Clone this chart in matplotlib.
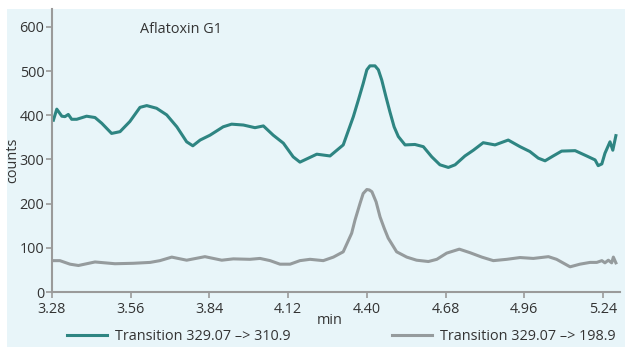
import matplotlib.pyplot as plt
from matplotlib.patches import Rectangle

plt.rcParams['font.family'] = ['Open Sans', 'DejaVu Sans']

# Transition 329.07 -> 310.9 (teal)
t_teal = [3.285, 3.297, 3.315, 3.326, 3.338, 3.350, 3.368, 3.403, 3.433, 3.457,
          3.492, 3.522, 3.557, 3.593, 3.617, 3.652, 3.688, 3.724, 3.759, 3.781,
          3.807, 3.842, 3.889, 3.919, 3.961, 4.002, 4.032, 4.067, 4.103, 4.138,
          4.162, 4.192, 4.222, 4.269, 4.316, 4.352, 4.370, 4.387, 4.400, 4.411,
          4.429, 4.441, 4.453, 4.468, 4.482, 4.497, 4.512, 4.536, 4.571, 4.601,
          4.631, 4.660, 4.690, 4.714, 4.749, 4.779, 4.814, 4.856, 4.903, 4.945,
          4.980, 5.010, 5.034, 5.063, 5.093, 5.141, 5.182, 5.212, 5.223, 5.236,
          5.247, 5.265, 5.275, 5.286]
v_teal = [389, 414, 398, 397, 402, 391, 391, 398, 395, 382,
          359, 363, 386, 418, 422, 416, 401, 374, 340, 331,
          344, 355, 374, 380, 378, 372, 376, 355, 337, 306,
          294, 303, 312, 308, 333, 397, 435, 472, 503, 512,
          512, 503, 480, 442, 408, 374, 352, 333, 334, 329,
          306, 288, 282, 288, 308, 321, 338, 333, 344, 329,
          318, 303, 297, 308, 319, 320, 308, 299, 286, 290,
          314, 340, 321, 354]

# Transition 329.07 -> 198.9 (gray)
t_gray = [3.285, 3.308, 3.344, 3.374, 3.433, 3.504, 3.569, 3.629, 3.664, 3.706,
          3.759, 3.824, 3.884, 3.925, 3.984, 4.020, 4.056, 4.091, 4.127, 4.162,
          4.198, 4.245, 4.281, 4.316, 4.346, 4.358, 4.376, 4.387, 4.400, 4.409,
          4.418, 4.433, 4.447, 4.462, 4.476, 4.506, 4.542, 4.577, 4.619, 4.649,
          4.684, 4.729, 4.767, 4.809, 4.850, 4.898, 4.945, 4.992, 5.046, 5.075,
          5.123, 5.158, 5.194, 5.218, 5.236, 5.247, 5.259, 5.271, 5.277, 5.286]
v_gray = [71, 71, 63, 60, 68, 64, 65, 67, 71, 79,
          72, 80, 72, 75, 74, 76, 71, 63, 63, 71,
          74, 71, 79, 91, 133, 163, 201, 223, 232, 231,
          227, 204, 170, 144, 122, 91, 79, 72, 69, 74,
          88, 97, 89, 79, 71, 74, 78, 76, 80, 74,
          57, 63, 67, 67, 71, 66, 72, 66, 79, 66]

x_ticks = [3.28, 3.56, 3.84, 4.12, 4.40, 4.68, 4.96, 5.24]
y_ticks = [0, 100, 200, 300, 400, 500, 600]

teal = '#2e8582'
gray = '#959b9d'
axis_col = '#9a9a9a'
text_col = '#333333'
fs = 10.4

fig = plt.figure(figsize=(6.25, 3.47), dpi=100)
fig.patch.set_facecolor('white')
# light blue panel behind the chart
fig.patches.append(Rectangle((7 / 625, 0), 1, 1 - 9 / 347, transform=fig.transFigure,
                             facecolor='#e8f5f9', edgecolor='none', zorder=-10))

ax = fig.add_axes([52 / 625, 1 - 292 / 347, 568 / 625, 283 / 347])
ax.set_facecolor('none')

ax.plot(t_teal, v_teal, color=teal, lw=2.2, solid_joinstyle='round',
        label='Transition 329.07 \u2013> 310.9')
ax.plot(t_gray, v_gray, color=gray, lw=2.2, solid_joinstyle='round',
        label='Transition 329.07 \u2013> 198.9')

ax.set_xlim(3.28, 5.3006)
ax.set_ylim(0, 640.7)
ax.set_xticks(x_ticks)
ax.set_xticklabels(['%.2f' % x for x in x_ticks])
ax.set_yticks(y_ticks)

for s in ['top', 'right']:
    ax.spines[s].set_visible(False)
for s in ['left', 'bottom']:
    ax.spines[s].set_color(axis_col)
    ax.spines[s].set_linewidth(1.5)
ax.tick_params(direction='out', length=4, width=1.2, color=axis_col,
               labelcolor=text_col, labelsize=fs)
ax.tick_params(axis='x', pad=3)
ax.tick_params(axis='y', pad=1.5)

ax.set_xlabel('min', fontsize=fs, color=text_col)
ax.xaxis.set_label_coords((330 - 52) / 568, -0.074)
ax.set_ylabel('counts', fontsize=fs, color=text_col)
ax.yaxis.set_label_coords(-0.056, 0.466)

ax.text(0.227, 0.926, 'Aflatoxin G1', transform=ax.transAxes, ha='center',
        va='center', fontsize=fs, color=text_col)

fig.legend(loc='center', bbox_to_anchor=(0.546, 0.029), ncol=2, frameon=False,
           fontsize=fs, labelcolor=text_col, handlelength=2.8, handletextpad=0.55,
           columnspacing=7.0)

fig.savefig('out.png', dpi=100)
